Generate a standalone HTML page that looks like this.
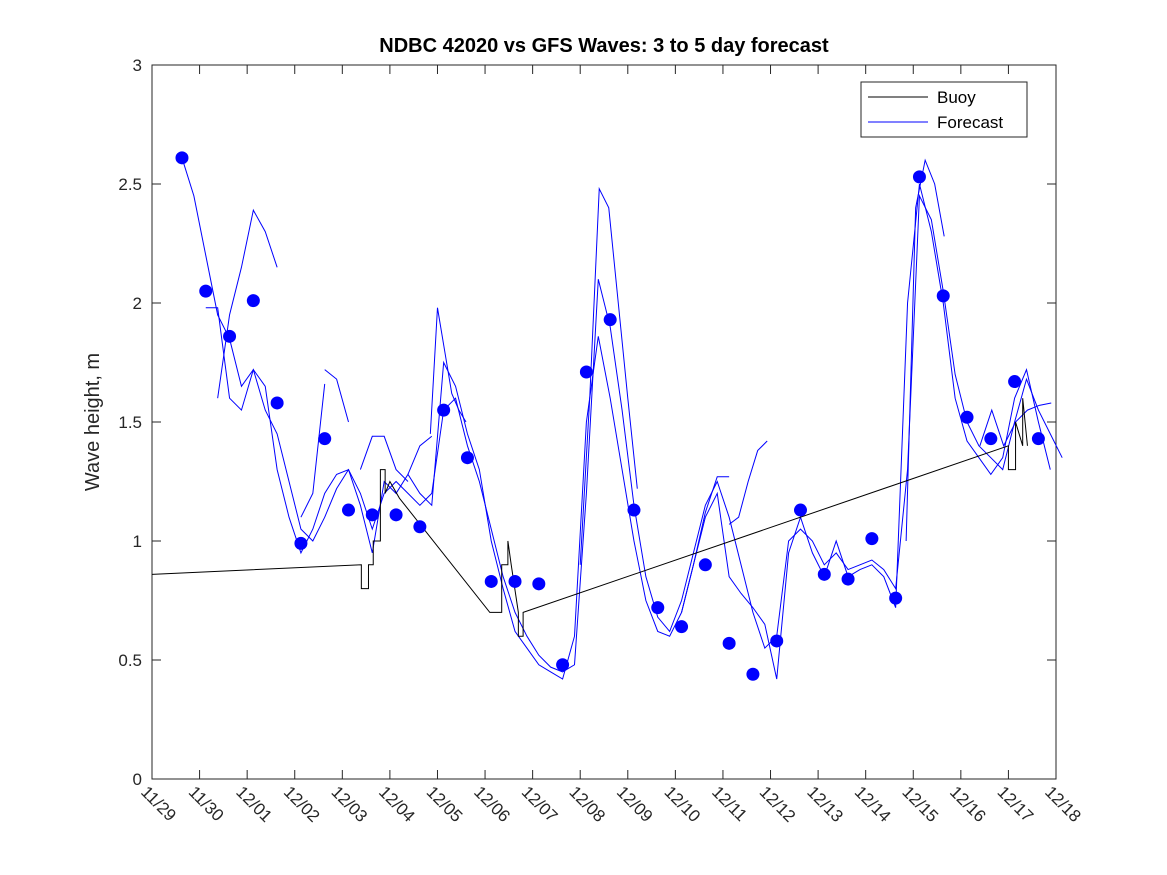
<!DOCTYPE html>
<html><head><meta charset="utf-8"><style>
body{margin:0;background:#fff}
svg{display:block;font-family:"Liberation Sans",sans-serif}
</style></head><body>
<svg id="c" width="1167" height="875"></svg>
<script>
const xTickLabels=["11/29","11/30","12/01","12/02","12/03","12/04","12/05","12/06","12/07","12/08","12/09","12/10","12/11","12/12","12/13","12/14","12/15","12/16","12/17","12/18"];
const yTicks=[0,0.5,1,1.5,2,2.5,3];
const dotStart=0.63, dotStep=0.5;
const dotValues=[2.61,2.05,1.86,2.01,1.58,0.99,1.43,1.13,1.11,1.11,1.06,1.55,1.35,0.83,0.83,0.82,0.48,1.71,1.93,1.13,0.72,0.64,0.90,0.57,0.44,0.58,1.13,0.86,0.84,1.01,0.76,2.53,2.03,1.52,1.43,1.67,1.43];
const mainStart=0.63, mainStep=0.25;
const mainValues=[2.61,2.45,2.2,1.95,1.85,1.65,1.72,1.55,1.45,1.25,1.05,1.0,1.1,1.22,1.3,1.2,1.05,1.2,1.25,1.2,1.15,1.2,1.55,1.6,1.4,1.25,1.05,0.85,0.7,0.6,0.52,0.47,0.45,0.48,1.2,2.1,1.9,1.55,1.15,0.85,0.68,0.62,0.75,0.95,1.15,1.25,1.1,0.9,0.7,0.55,0.6,1.0,1.05,1.0,0.9,0.95,0.88,0.9,0.92,0.88,0.8,1.3,2.45,2.35,2.05,1.7,1.5,1.4,1.35,1.3,1.5,1.68,1.55,1.45,1.35];
const run2Start=1.13, run2Step=0.25;
const run2Values=[1.98,1.98,1.6,1.55,1.72,1.65,1.3,1.1,0.95,1.05,1.2,1.28,1.3,1.15,0.95,1.25,1.2,1.28,1.2,1.15,1.75,1.65,1.45,1.3,1.0,0.8,0.62,0.55,0.48,0.45,0.42,0.6,1.5,1.86,1.6,1.3,1.0,0.75,0.62,0.6,0.7,0.9,1.1,1.2,0.85,0.78,0.72,0.65,0.42,0.95,1.1,0.95,0.85,1.0,0.85,0.88,0.9,0.85,0.72,2.0,2.5,2.3,2.0,1.6,1.42,1.35,1.28,1.35,1.6,1.72,1.5,1.3];
const runs=[
 {start:1.38,step:0.25,values:[1.6,1.95,2.15,2.39,2.3,2.15]},
 {start:3.13,step:0.25,values:[1.1,1.2,1.66]},
 {start:3.63,step:0.25,values:[1.72,1.68,1.5]},
 {start:4.38,step:0.25,values:[1.3,1.44,1.44,1.3,1.25]},
 {start:5.38,step:0.25,values:[1.28,1.4,1.44]},
 {start:5.85,step:0.15,values:[1.45,1.98,1.8,1.62,1.55,1.5]},
 {start:9.0,step:0.2,values:[0.9,1.6,2.48,2.4,2.0,1.6,1.22]},
 {start:11.13,step:0.25,values:[0.7,0.9,1.12,1.27,1.27]},
 {start:12.13,step:0.2,values:[1.07,1.1,1.25,1.38,1.42]},
 {start:15.85,step:0.2,values:[1.0,2.4,2.6,2.5,2.28]},
 {start:17.4,step:0.25,values:[1.4,1.55,1.4,1.5,1.55,1.57,1.58]}
];
const buoyDays=[0,4.4,4.4,4.55,4.55,4.65,4.65,4.8,4.8,4.9,4.9,5.0,5.2,7.1,7.35,7.35,7.48,7.48,7.55,7.55,7.7,7.7,7.8,7.8,18.0,18.0,18.15,18.15,18.3,18.3,18.4,18.4];
const buoyValues=[0.86,0.90,0.80,0.80,0.90,0.90,1.0,1.0,1.3,1.3,1.2,1.25,1.18,0.70,0.70,0.90,0.90,1.0,0.90,0.90,0.7,0.6,0.6,0.7,1.40,1.30,1.30,1.50,1.40,1.60,1.40,1.40];

const L=152,R=1056,T=65,B=779;
const X=d=>L+d*(R-L)/19, Y=v=>B-v*(B-T)/3;
const svg=document.getElementById('c');const NS='http://www.w3.org/2000/svg';
function mk(tag,attrs,parent){const e=document.createElementNS(NS,tag);for(const k in attrs)e.setAttribute(k,attrs[k]);(parent||svg).appendChild(e);return e;}
let e=mk('rect',{x:L,y:T,width:R-L,height:B-T,fill:'#fff',stroke:'#262626','stroke-width':1});


xTickLabels.forEach((lab,i)=>{const x=X(i);
 mk('line',{x1:x,y1:B,x2:x,y2:B-9,stroke:'#262626'});mk('line',{x1:x,y1:T,x2:x,y2:T+9,stroke:'#262626'});
 const t=mk('text',{x:x-12,y:B+14,transform:`rotate(45 ${x-12} ${B+14})`,'font-size':17,fill:'#262626'});t.textContent=lab;
 
 });
yTicks.forEach(v=>{const y=Y(v);
 mk('line',{x1:L,y1:y,x2:L+9,y2:y,stroke:'#262626'});mk('line',{x1:R,y1:y,x2:R-9,y2:y,stroke:'#262626'});
 const t=mk('text',{x:L-10,y:y+6,'text-anchor':'end','font-size':17,fill:'#262626'});t.textContent=String(v);
 
 });
function poly(days,vals,color,name){const p=mk('polyline',{points:days.map((d,i)=>X(d)+','+Y(vals[i])).join(' '),fill:'none',stroke:color,'stroke-width':1});
 
 }
poly(mainValues.map((v,i)=>mainStart+i*mainStep),mainValues,'#0000ff','forecast-line-main');
poly(run2Values.map((v,i)=>run2Start+i*run2Step),run2Values,'#0000ff','forecast-line-2');
runs.forEach(r=>poly(r.values.map((v,i)=>r.start+i*r.step),r.values,'#0000ff','forecast-run'));
poly(buoyDays,buoyValues,'#000','buoy-line');
dotValues.forEach((v,i)=>{const c=mk('circle',{cx:X(dotStart+i*dotStep),cy:Y(v),r:6.5,fill:'#0000ff'});
 
 });
const tt=mk('text',{x:604,y:52,'text-anchor':'middle','font-size':20,'font-weight':'bold',fill:'#000'});tt.textContent='NDBC 42020 vs GFS Waves: 3 to 5 day forecast';


const yl=mk('text',{x:99,y:422,transform:'rotate(-90 99 422)','text-anchor':'middle','font-size':20,fill:'#262626'});yl.textContent='Wave height, m';


const lg=mk('g',{});


mk('rect',{x:861,y:82,width:166,height:55,fill:'#fff',stroke:'#262626'},lg);
mk('line',{x1:868,y1:97,x2:928,y2:97,stroke:'#000'},lg);
mk('line',{x1:868,y1:122,x2:928,y2:122,stroke:'#0000ff'},lg);
let t1=mk('text',{x:937,y:103,'font-size':17,fill:'#000'},lg);t1.textContent='Buoy';


let t2=mk('text',{x:937,y:128,'font-size':17,fill:'#000'},lg);t2.textContent='Forecast';


</script>
</body></html>
